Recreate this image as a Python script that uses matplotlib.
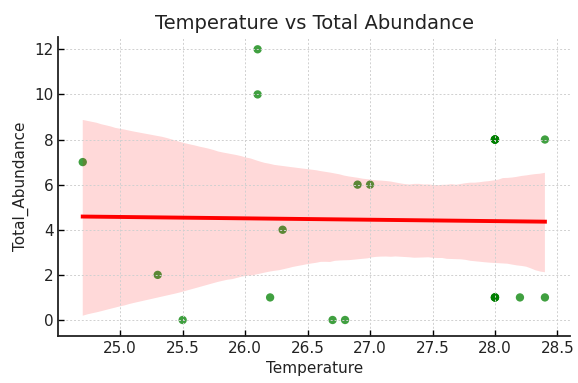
import matplotlib
matplotlib.use("Agg")
import matplotlib.pyplot as plt
import seaborn as sns
import numpy as np

temperature = [24.7, 25.3, 25.5, 26.1, 26.1, 26.2, 26.3, 26.7, 26.8, 26.9, 27.0,
               28.0, 28.0, 28.0, 28.0, 28.0, 28.0, 28.0, 28.0, 28.0,
               28.2, 28.4, 28.4]
total_abundance = [7, 2, 0, 12, 10, 1, 4, 0, 0, 6, 6,
                   8, 8, 8, 8, 8, 1, 1, 1, 1,
                   1, 8, 1]

fig = plt.figure(figsize=(5.78, 3.83), dpi=100)
ax = fig.add_axes([0.101, 0.1227, 0.885, 0.781])

sns.regplot(x=np.array(temperature), y=np.array(total_abundance), ax=ax, ci=95, seed=11,
            scatter_kws=dict(color="green", alpha=0.75, s=36, edgecolors="none"),
            line_kws=dict(color="red", lw=2.8))
for coll in ax.collections[1:]:
    coll.set_facecolor((1.0, 0.0, 0.0, 0.15))

ax.set_title("Temperature vs Total Abundance", fontsize=14, color="#222222")
ax.set_xlabel("Temperature", fontsize=11, color="#222222")
ax.set_ylabel("Total_Abundance", fontsize=11, color="#222222")
ax.set_xticks([25.0, 25.5, 26.0, 26.5, 27.0, 27.5, 28.0, 28.5])
ax.set_yticks([0, 2, 4, 6, 8, 10, 12])
ax.set_xlim(24.505, 28.60)
ax.set_ylim(-0.71, 12.55)
ax.tick_params(direction="in", labelsize=11, length=4, width=1, labelcolor="#222222")
ax.grid(True, linestyle=(0, (2, 2)), color="#d0d0d0", lw=0.7)
for s in ["top", "right"]:
    ax.spines[s].set_visible(False)
for s in ["left", "bottom"]:
    ax.spines[s].set_linewidth(1.3)
    ax.spines[s].set_color("#222222")

fig.savefig("out.png", dpi=100)
